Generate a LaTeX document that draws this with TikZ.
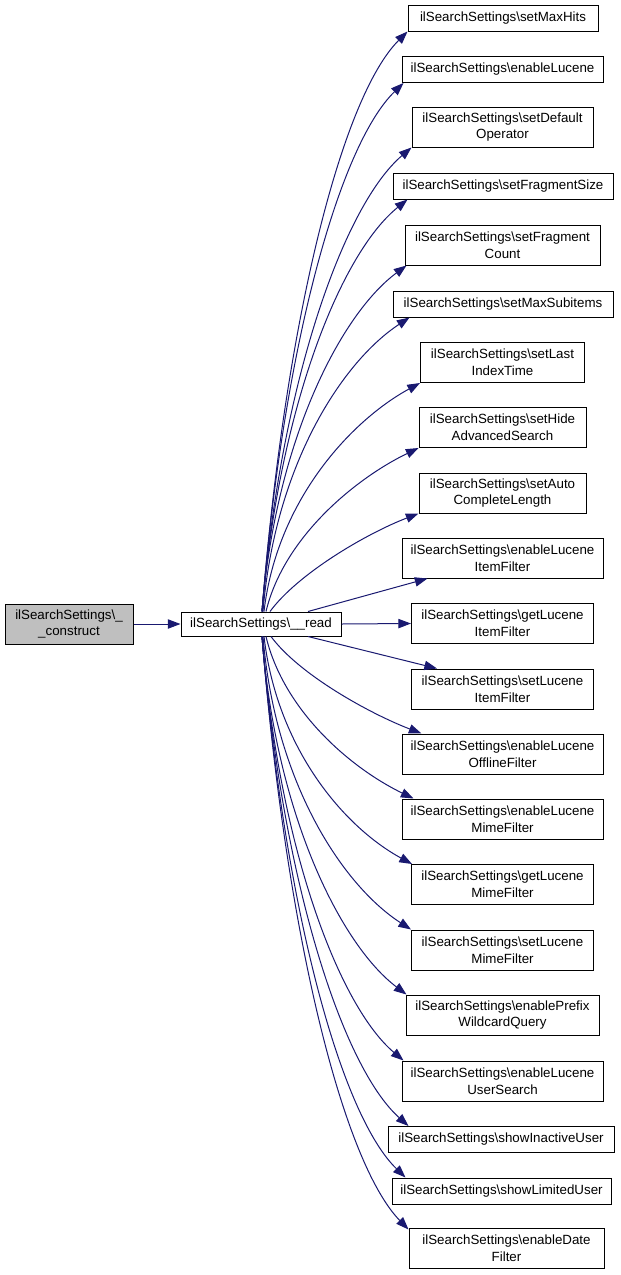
\documentclass[tikz,border=0pt]{standalone}
\usepackage{fontspec}
\setmainfont{Liberation Sans}
\usetikzlibrary{arrows.meta,calc}
\definecolor{edgeblue}{HTML}{191970}
\definecolor{cgray}{HTML}{BFBFBF}
\newcommand\isS{ilSearchSettings\textbackslash{}}
\tikzset{
  fn/.style n args={2}{draw=black, line width=0.75pt, fill=white, inner sep=0pt, align=center,
    minimum width=#1*0.75pt, minimum height=#2*0.75pt, font=\fontsize{10}{12.5}\selectfont},
  call/.style={draw=edgeblue, line width=0.75pt, -{Triangle[length=9.5pt,width=7pt]}}
}
\begin{document}
\begin{tikzpicture}[x=0.75pt,y=-0.75pt]
\useasboundingbox (0,0) rectangle (621,1275);
% left nodes
\node[fn={128}{40}, fill=cgray] (con) at (69,624) {\isS\_\\\_construct};
\node[fn={160}{24}] (read) at (261,624) {\isS\_\_read};
% right nodes
\node[fn={190}{26}] (n1) at (503,18) {\isS setMaxHits};
\node[fn={201}{26}] (n2) at (502.5,69.5) {\isS enableLucene};
\node[fn={181}{40}] (n3) at (502.5,127) {\isS setDefault\\Operator};
\node[fn={220}{26}] (n4) at (503,186) {\isS setFragmentSize};
\node[fn={195}{40}] (n5) at (502.5,245) {\isS setFragment\\Count};
\node[fn={220}{26}] (n6) at (503,304) {\isS setMaxSubitems};
\node[fn={164}{40}] (n7) at (502.5,362.5) {\isS setLast\\IndexTime};
\node[fn={167}{40}] (n8) at (502.5,427.5) {\isS setHide\\AdvancedSearch};
\node[fn={167}{40}] (n9) at (502.5,493) {\isS setAuto\\CompleteLength};
\node[fn={201}{40}] (n10) at (502.5,558) {\isS enableLucene\\ItemFilter};
\node[fn={182}{40}] (n11) at (502.5,623.5) {\isS getLucene\\ItemFilter};
\node[fn={182}{40}] (n12) at (502.5,689) {\isS setLucene\\ItemFilter};
\node[fn={201}{40}] (n13) at (502.5,754) {\isS enableLucene\\OfflineFilter};
\node[fn={201}{40}] (n14) at (502.5,819) {\isS enableLucene\\MimeFilter};
\node[fn={182}{40}] (n15) at (502.5,884.5) {\isS getLucene\\MimeFilter};
\node[fn={182}{40}] (n16) at (502.5,950) {\isS setLucene\\MimeFilter};
\node[fn={193}{40}] (n17) at (502.5,1015) {\isS enablePrefix\\WildcardQuery};
\node[fn={201}{40}] (n18) at (502.5,1081) {\isS enableLucene\\UserSearch};
\node[fn={226}{26}] (n19) at (501,1139.5) {\isS showInactiveUser};
\node[fn={219}{26}] (n20) at (501.5,1191) {\isS showLimitedUser};
\node[fn={195}{40}] (n21) at (506.5,1248) {\isS enableDate\\Filter};
% edges
\draw[call] (con.east) -- (read.west);
\draw[call] (read.east) -- (n11.west);
\draw[call] ($(read.north)+(1,0)$) .. controls +(23,-290) and +(-66,66) .. ($(n1.south west)+(0,0)$);
\draw[call] ($(read.north)+(1,0)$) .. controls +(21,-265) and +(-64,62) .. ($(n2.south west)+(2,0)$);
\draw[call] ($(read.north)+(1,0)$) .. controls +(19,-232) and +(-67,57) .. ($(n3.south west)+(0,0)$);
\draw[call] ($(read.north)+(1,0)$) .. controls +(17,-206) and +(-66,53) .. ($(n4.south west)+(15,0)$);
\draw[call] ($(read.north)+(1,0)$) .. controls +(14,-173) and +(-65,48) .. ($(n5.south west)+(2,0)$);
\draw[call] ($(read.north)+(2,0)$) .. controls +(12,-147) and +(-67,44) .. ($(n6.south west)+(17,0)$);
\draw[call] ($(read.north)+(3,0)$) .. controls +(13,-112) and +(-68,37) .. ($(n7.south west)+(0,0)$);
\draw[call] ($(read.north)+(5,0)$) .. controls +(18,-75) and +(-62,30) .. ($(n8.south west)+(0,0)$);
\draw[call] ($(read.north)+(9,0)$) .. controls +(28,-38) and +(-52,20) .. ($(n9.south west)+(0,0)$);
\draw[call] ($(read.north)+(47,0)$) -- ($(n10.south west)+(26,0)$);
\draw[call] ($(read.south)+(47,0)$) -- ($(n12.north west)+(26,0)$);
\draw[call] ($(read.south)+(10,0)$) .. controls +(28,38) and +(-52,-20) .. ($(n13.north west)+(20,0)$);
\draw[call] ($(read.south)+(5,0)$) .. controls +(18,75) and +(-62,-30) .. ($(n14.north west)+(12,0)$);
\draw[call] ($(read.south)+(3,0)$) .. controls +(13,112) and +(-68,-37) .. ($(n15.north west)+(1,0)$);
\draw[call] ($(read.south)+(2,0)$) .. controls +(12,147) and +(-68,-44) .. ($(n16.north west)+(0,0)$);
\draw[call] ($(read.south)+(1,0)$) .. controls +(14,180) and +(-65,-49) .. ($(n17.north west)+(1,0)$);
\draw[call] ($(read.south)+(1,0)$) .. controls +(17,213) and +(-64,-54) .. ($(n18.north west)+(2,0)$);
\draw[call] ($(read.south)+(1,0)$) .. controls +(20,245) and +(-66,-59) .. ($(n19.north west)+(21,0)$);
\draw[call] ($(read.south)+(1,0)$) .. controls +(22,271) and +(-65,-63) .. ($(n20.north west)+(14,0)$);
\draw[call] ($(read.south)+(1,0)$) .. controls +(24,297) and +(-66,-68) .. ($(n21.north west)+(0,2)$);
\end{tikzpicture}
\end{document}
